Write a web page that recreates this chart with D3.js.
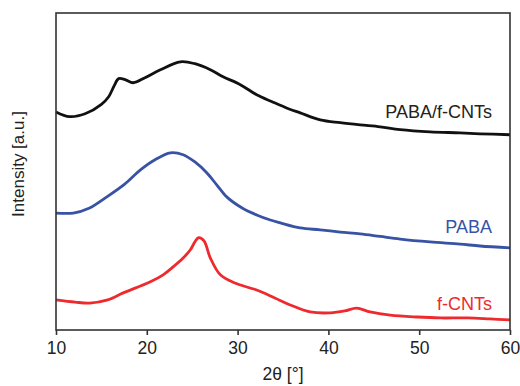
<!DOCTYPE html>
<html lang="en">
<head>
    <meta charset="UTF-8">
    <title>XRD patterns</title>
    <script src="https://d3js.org/d3.v7.min.js"></script>
    <style>
        body { margin: 0; background: #fff; }
        text { font-family: "Liberation Sans", Arial, sans-serif; }
    </style>
</head>
<body>
<svg id="chart" width="520" height="386"></svg>

<script>
    // 2theta (deg) and intensity (a.u., offset traces)
    const compositeX = [10, 11.5, 13.2, 15.0, 15.8, 16.4, 16.9, 17.6, 18.5, 19.8, 21.5, 23.7, 25.3, 27.0, 28.4, 30.3, 32.1, 33.8, 35.6, 36.9, 39.1, 41.3, 43.5, 45.7, 47.9, 51.2, 54.5, 56.7, 60];
    const compositeY = [68.8, 67.3, 68.2, 71.2, 73.6, 77.0, 79.3, 79.0, 78.0, 79.6, 82.1, 84.6, 84.0, 82.1, 79.9, 77.4, 74.2, 72.0, 69.8, 68.5, 66.3, 65.4, 64.7, 64.1, 63.2, 62.5, 62.2, 61.9, 61.6];

    const pabaX = [10, 11.9, 13.7, 15.6, 17.6, 19.3, 20.9, 22.6, 24.0, 25.3, 26.6, 27.7, 28.8, 30.5, 32.1, 33.6, 34.7, 36.9, 39.1, 41.3, 43.5, 45.7, 47.9, 51.2, 54.5, 56.7, 60];
    const pabaY = [36.9, 36.9, 38.5, 42.0, 46.1, 50.5, 53.7, 55.9, 55.3, 53.0, 49.6, 45.8, 42.0, 38.5, 36.3, 34.7, 33.8, 32.2, 31.6, 30.9, 30.3, 29.5, 28.7, 27.8, 27.1, 26.5, 25.9];

    const cntX = [10, 12.1, 13.7, 15.7, 17.4, 19.3, 20.4, 21.8, 22.9, 24.0, 24.8, 25.3, 25.7, 26.3, 27.0, 28.1, 29.7, 32.1, 34.1, 35.8, 38.0, 40.2, 41.8, 43.1, 44.6, 46.8, 49.8, 52.3, 55.3, 57.8, 60];
    const cntY = [9.5, 8.8, 8.5, 9.5, 11.7, 13.9, 15.2, 17.4, 19.9, 22.7, 25.3, 27.8, 29.1, 28.1, 22.7, 17.4, 14.8, 12.6, 10.1, 7.9, 5.7, 5.4, 6.0, 6.9, 5.7, 4.7, 4.1, 3.8, 3.8, 3.5, 3.2];

    const seriesNames = ["PABA/f-CNTs", "PABA", "f-CNTs"];
    const seriesColors = ["#111111", "#3953a4", "#ee2a2f"];
    const xTicks = [10, 20, 30, 40, 50, 60];

    const margin = {top: 13, right: 10, bottom: 56, left: 56};
    const width = 520, height = 386;
    const svg = d3.select("#chart");

    const x = d3.scaleLinear().domain([10, 60]).range([margin.left, width - margin.right]);
    const y = d3.scaleLinear().domain([0, 100]).range([height - margin.bottom, margin.top]);

    const series = [
        {name: seriesNames[0], xs: compositeX, ys: compositeY, color: seriesColors[0], labelY: 67},
        {name: seriesNames[1], xs: pabaX, ys: pabaY, color: seriesColors[1], labelY: 30.6},
        {name: seriesNames[2], xs: cntX, ys: cntY, color: seriesColors[2], labelY: 6.3}
    ];

    const line = d3.line()
        .x(d => x(d[0]))
        .y(d => y(d[1]))
        .curve(d3.curveCatmullRom.alpha(0.5));

    svg.selectAll("path.trace")
        .data(series)
        .join("path")
        .attr("class", "trace")
        .attr("fill", "none")
        .attr("stroke", d => d.color)
        .attr("stroke-width", 2.8)
        .attr("stroke-linejoin", "round")
        .attr("d", d => line(d.xs.map((v, i) => [v, d.ys[i]])));

    // labels, right aligned
    svg.selectAll("text.lab")
        .data(series)
        .join("text")
        .attr("class", "lab")
        .attr("x", x(60) - 18)
        .attr("y", d => y(d.labelY))
        .attr("text-anchor", "end")
        .attr("font-size", 18)
        .attr("fill", d => d.color === "#111111" ? "#222" : d.color)
        .text(d => d.name);

    // frame
    svg.append("rect")
        .attr("x", x(10))
        .attr("y", margin.top)
        .attr("width", x(60) - x(10))
        .attr("height", height - margin.bottom - margin.top)
        .attr("fill", "none")
        .attr("stroke", "#333")
        .attr("stroke-width", 1.6);

    const xAxis = svg.append("g")
        .attr("transform", `translate(0,${height - margin.bottom})`)
        .call(d3.axisBottom(x).tickValues(xTicks).tickSize(5).tickPadding(7));
    xAxis.select(".domain").remove();
    xAxis.selectAll("line").attr("stroke", "#333").attr("stroke-width", 1.6);
    xAxis.selectAll("text")
        .attr("font-size", 17.5)
        .attr("fill", "#222")
        .style("font-family", "'Liberation Sans', Arial, sans-serif");

    svg.append("text")
        .attr("x", (x(10) + x(60)) / 2)
        .attr("y", 380)
        .attr("text-anchor", "middle")
        .attr("font-size", 17.5)
        .attr("fill", "#222")
        .text("2θ [°]");

    svg.append("text")
        .attr("transform", "translate(24,164) rotate(-90)")
        .attr("text-anchor", "middle")
        .attr("font-size", 17)
        .attr("fill", "#222")
        .text("Intensity [a.u.]");
</script>
</body>
</html>
